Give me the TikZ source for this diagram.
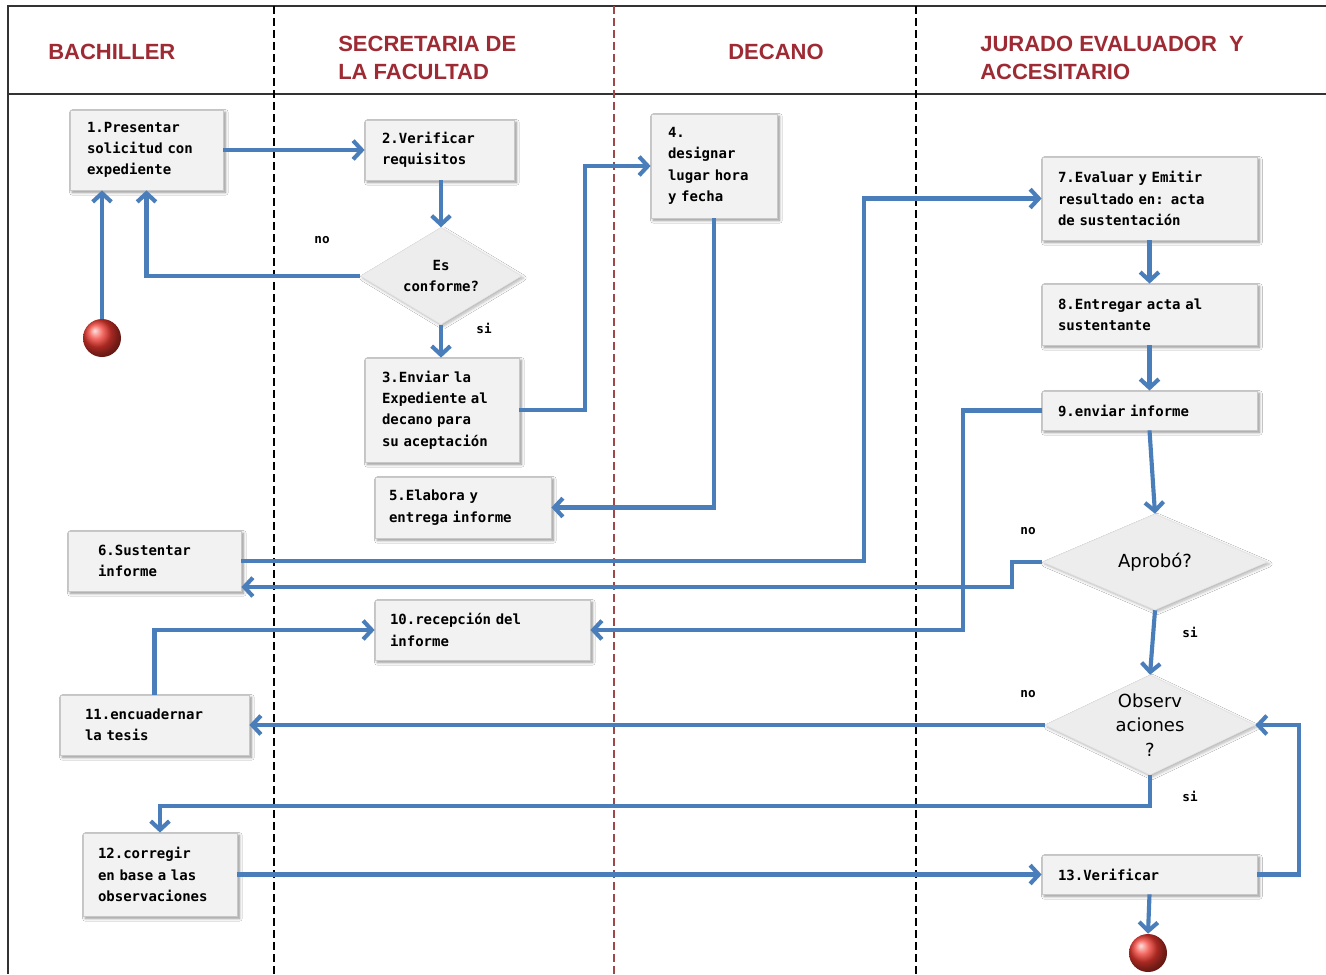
\documentclass[tikz,border=0pt]{standalone}
\usepackage{fontspec}
\setmainfont{Liberation Sans}
\newfontfamily\monofont{DejaVu Sans Mono}
\newfontfamily\roundfont{DejaVu Sans}
\usetikzlibrary{arrows.meta,shapes.geometric,shadows.blur,calc}
\definecolor{flowblue}{HTML}{4A7EBB}
\definecolor{boxfill}{HTML}{F2F2F2}
\definecolor{diafill}{HTML}{EDEDED}
\definecolor{boxline}{HTML}{C8C8C8}
\definecolor{titlered}{HTML}{9E2A34}
\definecolor{lanered}{HTML}{A04848}
\definecolor{framegray}{HTML}{333333}
\definecolor{balltone}{HTML}{F03A30}

\begin{document}
\begin{tikzpicture}[x=0.75pt,y=-0.75pt,
  box/.style={draw=boxline, line width=0.6pt, fill=boxfill, inner sep=0pt, align=left,
    font=\fontsize{10.5}{16}\selectfont\monofont\bfseries,
    blur shadow={shadow xshift=1.8pt, shadow yshift=-1.8pt, shadow blur steps=6, shadow opacity=45}},
  dia/.style={shape=diamond, fill=diafill, draw=diafill!90!gray, line width=0.4pt, inner sep=0pt,
    blur shadow={shadow xshift=1.5pt, shadow yshift=-1.5pt, shadow blur steps=6, shadow opacity=30}},
  dmono/.style={font=\fontsize{10.5}{16}\selectfont\monofont\bfseries, align=center, inner sep=0pt},
  dround/.style={font=\fontsize{13.5}{18.5}\selectfont\roundfont, align=center, inner sep=0pt},
  flow/.style={draw=flowblue, line width=3.1pt, line join=miter,
    -{Straight Barb[length=6.5pt,width=14pt]}},
  lane/.style={dash pattern=on 6pt off 3pt, line width=0.9pt},
  title/.style={font=\fontsize{16.5}{21}\selectfont\bfseries, text=titlered, align=left, inner sep=0pt},
  tag/.style={font=\fontsize{9.5}{11}\selectfont\monofont\bfseries, inner sep=0pt},
  ball/.style={circle, minimum size=28.5pt, inner sep=0pt, shading=ball, ball color=balltone}
]
\useasboundingbox (0,0) rectangle (1326,974);
\fill[white] (0,0) rectangle (1326,974);

% swimlane frame
\draw[framegray, line width=1.5pt] (1326,6) -- (8,6) -- (8,974);
\draw[framegray, line width=1.5pt] (8,94) -- (1326,94);
\draw[lane, black] (274,6) -- (274,974);
\draw[lane, lanered] (614,6) -- (614,974);
\draw[lane, black] (916,6) -- (916,974);

% lane headers
\node[title, anchor=west] (hBach) at (48,52) {BACHILLER};
\node[title, anchor=west] (hSec) at (338,58) {SECRETARIA DE\\LA FACULTAD};
\node[title] (hDec) at (776,52) {DECANO};
\node[title, anchor=west] (hJur) at (980,58) {JURADO EVALUADOR\ \ Y\\ACCESITARIO};

% activities
\node[box, minimum width=114.75pt, minimum height=60pt, text width=89.25pt] (b1) at (146.5,150)
  {1.Presentar\\solicitud con\\expediente};
\node[box, minimum width=111.75pt, minimum height=45pt, text width=86.25pt] (b2) at (439.5,150)
  {2.Verificar\\requisitos};
\node[box, minimum width=115.5pt, minimum height=78pt, text width=90pt] (b3) at (442,410)
  {3.Enviar la\\Expediente al\\decano para\\su aceptación};
\node[box, minimum width=94.5pt, minimum height=78pt, text width=69pt] (b4) at (714,166)
  {4.\\designar\\lugar hora\\y fecha};
\node[box, minimum width=132pt, minimum height=45.75pt, text width=111pt] (b5) at (463,507.5)
  {5.Elabora y\\entrega informe};
\node[box, minimum width=129.75pt, minimum height=45pt, text width=84.75pt] (b6) at (154.5,561)
  {6.Sustentar\\informe};
\node[box, minimum width=161.25pt, minimum height=62.25pt, text width=137.25pt] (b7) at (1149.5,198.5)
  {7.Evaluar y Emitir\\resultado en: acta\\de sustentación};
\node[box, minimum width=161.25pt, minimum height=45.75pt, text width=137.25pt] (b8) at (1149.5,314.5)
  {8.Entregar acta al\\sustentante};
\node[box, minimum width=161.25pt, minimum height=29.25pt, text width=137.25pt] (b9) at (1149.5,410.5)
  {9.enviar informe};
\node[box, minimum width=161.25pt, minimum height=45pt, text width=138.75pt] (b10) at (482.5,630)
  {10.recepción del\\informe};
\node[box, minimum width=141.75pt, minimum height=45pt, text width=104.25pt] (b11) at (154.5,725)
  {11.encuadernar\\la tesis};
\node[box, minimum width=115.5pt, minimum height=62.25pt, text width=93pt] (b12) at (160,874.5)
  {12.corregir\\en base a las\\observaciones};
\node[box, minimum width=161.25pt, minimum height=29.25pt, text width=137.25pt] (b13) at (1149.5,874.5)
  {13.Verificar};

% decisions
\node[dia, minimum width=120.75pt, minimum height=72.75pt,
  label={[dmono]center:{Es\\conforme?}}] (d1) at (441,276) {};
\node[dia, minimum width=168.75pt, minimum height=72pt,
  label={[dround]center:{Aprobó?}}] (d2) at (1155,562) {};
\node[dia, minimum width=157.5pt, minimum height=75pt,
  label={[dround]center:{Observ\\aciones\\?}}] (d3) at (1150,725) {};

% start and end
\node[ball] (start) at (102,338) {};
\node[ball] (end) at (1148,953) {};

% flow
\draw[flow] (start.north) -- (start.north |- b1.south);
\draw[flow] (b1.east) -- (b2.west);
\draw[flow] (d1.north |- b2.south) -- (d1.north);
\draw[flow] (d1.west) -| (b1.south);
\draw[flow] (d1.south) -- (d1.south |- b3.north);
\draw[flow] (b3.east) -- ++(66,0) |- (b4.west);
\draw[flow] (b4.south) |- (b5.east);
\draw[flow] (b6.east) -- ++(623,0) |- (b7.west);
\draw[flow] (b7.south) -- (b8.north);
\draw[flow] (b8.south) -- (b9.north);
\draw[flow] (b9.south) -- (d2.north);
\draw[flow] (d2.west) -- ++(-30,0) -- ++(0,25) -- ($(b6.east)+(0,26)$);
\draw[flow] (b9.west) -- ++(-79,0) |- (b10.east);
\draw[flow] (b11.north) |- (b10.west);
\draw[flow] (d2.south) -- (d3.north);
\draw[flow] (d3.west) -- (b11.east);
\draw[flow] (d3.south) -- ++(0,31) -| (b12.north);
\draw[flow] (b12.east) -- (b13.west);
\draw[flow] (b13.east) -- ++(42,0) |- (d3.east);
\draw[flow] (b13.south) -- (end.north);

% branch labels
\node[tag] (n1) at (322,240) {no};
\node[tag] (s1) at (484,328) {si};
\node[tag] (n2) at (1028,531) {no};
\node[tag] (s2) at (1190,632) {si};
\node[tag] (n3) at (1028,694) {no};
\node[tag] (s3) at (1190,796) {si};
\end{tikzpicture}
\end{document}
